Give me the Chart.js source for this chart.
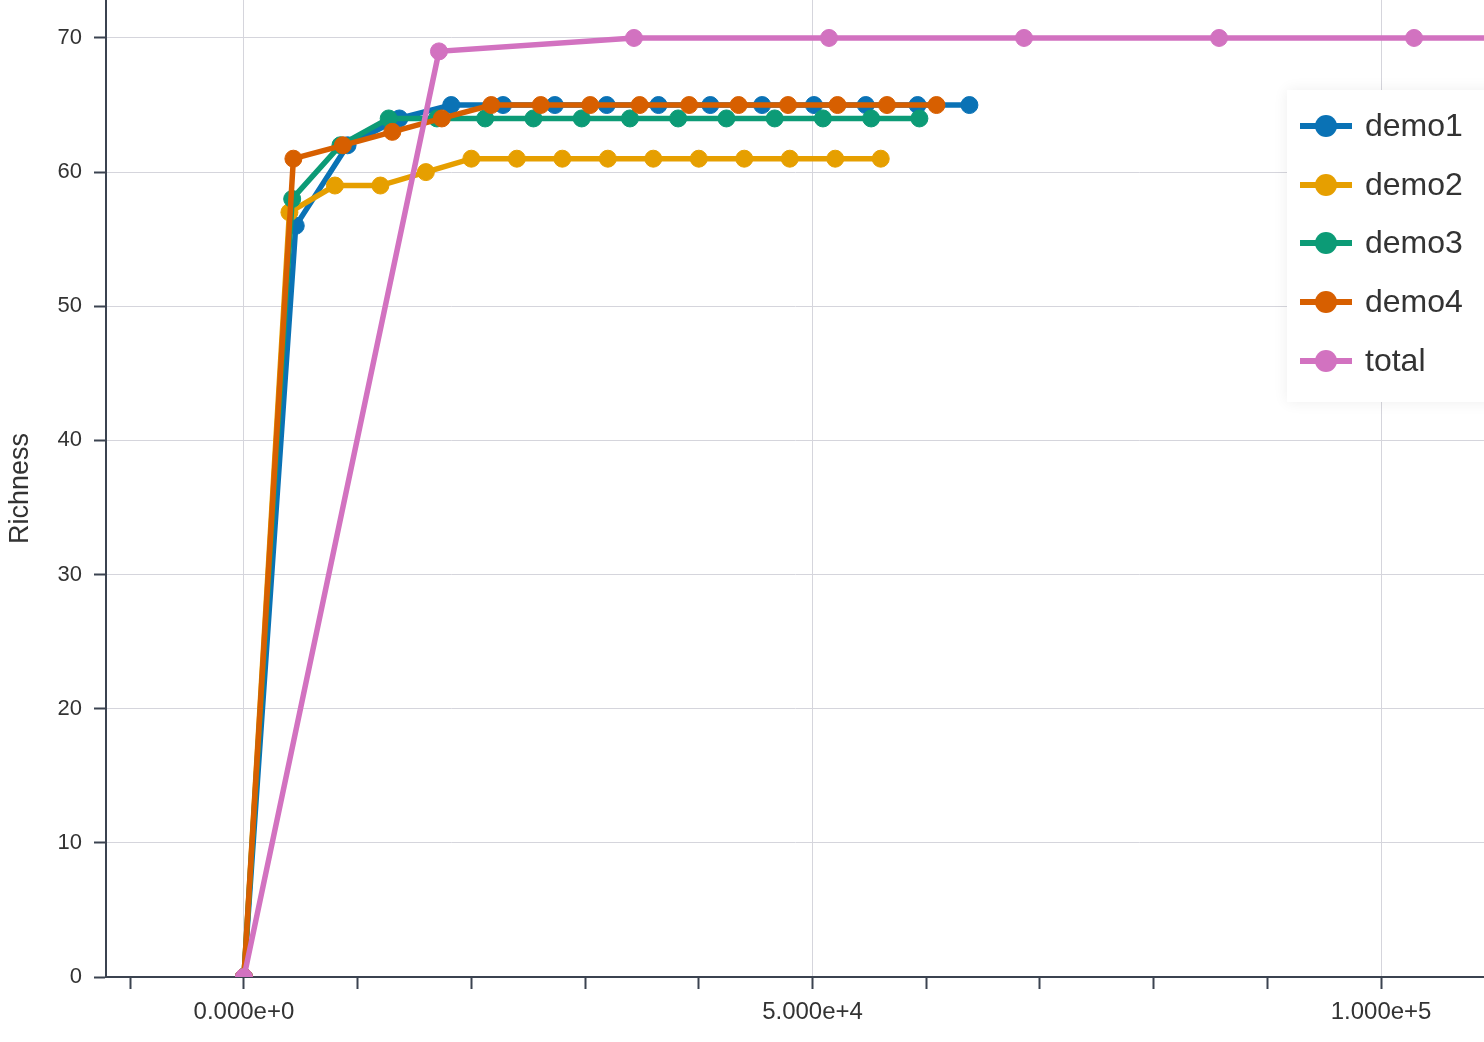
<!DOCTYPE html>
<html>
<head>
<meta charset="utf-8">
<script src="https://cdn.jsdelivr.net/npm/chart.js@4/dist/chart.umd.min.js"></script>
<style>
html,body{margin:0;padding:0;background:#fff;overflow:hidden}
#wrap{position:relative;width:1484px;height:1042px}
</style>
</head>
<body>
<div id="wrap"><canvas id="c" width="1484" height="1042"></canvas></div>
<script>
// ---- data ----
const seriesNames = ['demo1', 'demo2', 'demo3', 'demo4', 'total'];
const seriesColors = ['#0A72B5', '#E69F00', '#0C9B76', '#D75F00', '#D272C0'];

const demo1X = [0, 4557, 9114, 13671, 18228, 22785, 27342, 31899, 36456, 41013, 45570, 50127, 54684, 59241, 63798];
const demo1Y = [0, 56, 62, 64, 65, 65, 65, 65, 65, 65, 65, 65, 65, 65, 65];

const demo2X = [0, 4000, 8000, 12000, 16000, 20000, 24000, 28000, 32000, 36000, 40000, 44000, 48000, 52000, 56000];
const demo2Y = [0, 57, 59, 59, 60, 61, 61, 61, 61, 61, 61, 61, 61, 61, 61];

const demo3X = [0, 4243, 8486, 12729, 16972, 21215, 25458, 29701, 33944, 38187, 42430, 46673, 50916, 55159, 59400];
const demo3Y = [0, 58, 62, 64, 64, 64, 64, 64, 64, 64, 64, 64, 64, 64, 64];

const demo4X = [0, 4350, 8700, 13050, 17400, 21750, 26100, 30450, 34800, 39150, 43500, 47850, 52200, 56550, 60900];
const demo4Y = [0, 61, 62, 63, 64, 65, 65, 65, 65, 65, 65, 65, 65, 65, 65];

const totalX = [0, 17150, 34300, 51450, 68600, 85750, 102900, 120050, 137200];
const totalY = [0, 69, 70, 70, 70, 70, 70, 70, 70];

const xTickValues = [-10000, 0, 10000, 20000, 30000, 40000, 50000, 60000, 70000, 80000, 90000, 100000];
const xLabeledTicks = [0, 50000, 100000];
const yTickValues = [0, 10, 20, 30, 40, 50, 60, 70];

const yTitle = 'Richness';

// ---- build ----
const allX = [demo1X, demo2X, demo3X, demo4X, totalX];
const allY = [demo1Y, demo2Y, demo3Y, demo4Y, totalY];

const datasets = seriesNames.map((name, i) => ({
  label: name,
  data: allX[i].map((x, k) => ({x: x, y: allY[i][k]})),
  borderColor: seriesColors[i],
  backgroundColor: seriesColors[i],
  pointBackgroundColor: seriesColors[i],
  pointBorderColor: seriesColors[i],
  borderWidth: 5.5,
  pointRadius: 8.5,
  pointBorderWidth: 1,
  pointHoverRadius: 8.5,
  tension: 0,
  showLine: true,
  fill: false,
  order: seriesNames.length - i
}));

const AXIS = '#3b4350';
const GRID = '#d5d5dc';
const TXT = '#333333';
const FONT = "'Liberation Sans', Arial, Helvetica, sans-serif";

const legendPlugin = {
  id: 'customLegend',
  afterDraw(chart) {
    const ctx = chart.ctx;
    ctx.save();
    ctx.shadowColor = 'rgba(0,0,0,0.07)';
    ctx.shadowBlur = 14;
    ctx.fillStyle = '#ffffff';
    ctx.fillRect(1287, 90, 220, 312);
    ctx.shadowBlur = 0;
    ctx.shadowColor = 'transparent';
    const ys = [126, 185, 243, 302, 361];
    chart.data.datasets.forEach((ds, i) => {
      const y = ys[i];
      ctx.strokeStyle = ds.borderColor;
      ctx.lineWidth = 6;
      ctx.beginPath();
      ctx.moveTo(1300, y);
      ctx.lineTo(1352, y);
      ctx.stroke();
      ctx.fillStyle = ds.borderColor;
      ctx.beginPath();
      ctx.arc(1326, y, 11, 0, Math.PI * 2);
      ctx.fill();
      ctx.fillStyle = TXT;
      ctx.font = '32px ' + FONT;
      ctx.textBaseline = 'middle';
      ctx.textAlign = 'left';
      ctx.fillText(ds.label, 1365, y + 1);
    });
    ctx.restore();
  }
};

new Chart(document.getElementById('c'), {
  type: 'scatter',
  data: { datasets: datasets },
  options: {
    responsive: false,
    animation: false,
    devicePixelRatio: 1,
    layout: { padding: 0, autoPadding: false },
    plugins: {
      legend: { display: false },
      tooltip: { enabled: false }
    },
    scales: {
      x: {
        type: 'linear',
        min: -12130,
        max: 109050,
        afterBuildTicks: (scale) => { scale.ticks = xTickValues.map(v => ({value: v})); },
        afterFit: (scale) => {
          scale.height = 65;
          scale.paddingLeft = 0; scale.paddingRight = 0;
          scale.paddingTop = 0; scale.paddingBottom = 0;
        },
        ticks: {
          autoSkip: false,
          maxRotation: 0,
          padding: 9,
          color: TXT,
          font: { family: FONT, size: 24 },
          callback: (v) => xLabeledTicks.includes(v) ? Number(v).toExponential(3) : ''
        },
        grid: {
          color: (c) => (c.tick && xLabeledTicks.includes(c.tick.value)) ? GRID : 'rgba(0,0,0,0)',
          lineWidth: 1,
          drawTicks: true,
          tickLength: 12,
          tickColor: AXIS,
          tickWidth: 2
        },
        border: { display: true, color: AXIS, width: 2 }
      },
      y: {
        type: 'linear',
        min: 0,
        max: 72.83,
        afterBuildTicks: (scale) => { scale.ticks = yTickValues.map(v => ({value: v})); },
        afterFit: (scale) => {
          scale.width = 106;
          scale.paddingLeft = 0; scale.paddingRight = 0;
          scale.paddingTop = 0; scale.paddingBottom = 0;
        },
        ticks: {
          padding: 12,
          color: TXT,
          font: { family: FONT, size: 22 }
        },
        grid: {
          color: GRID,
          lineWidth: 1,
          drawTicks: true,
          tickLength: 12,
          tickColor: AXIS,
          tickWidth: 2
        },
        border: { display: true, color: AXIS, width: 2 },
        title: {
          display: true,
          text: yTitle,
          color: TXT,
          font: { family: FONT, size: 27 },
          padding: { top: 4, bottom: 0 }
        }
      }
    }
  },
  plugins: [legendPlugin]
});
</script>
</body>
</html>
